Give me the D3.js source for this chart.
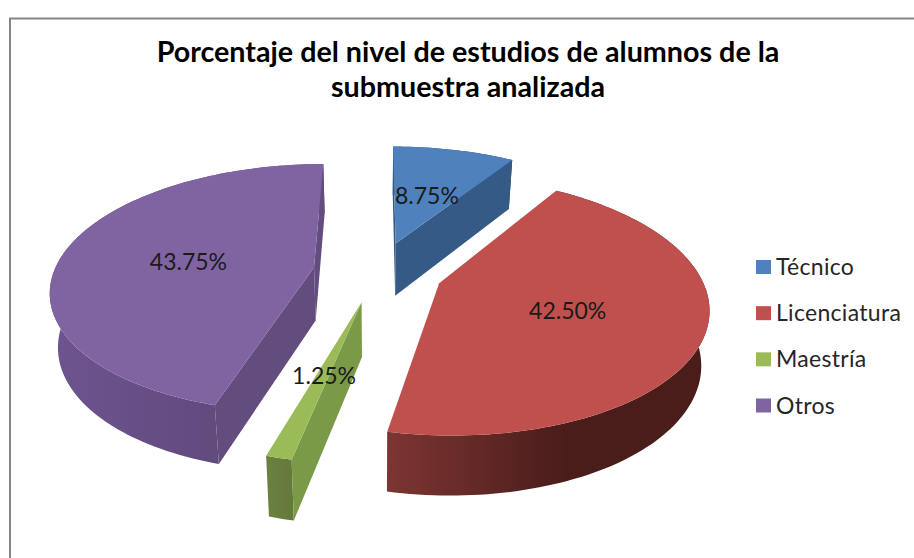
<!DOCTYPE html>
<html>
<head>
<meta charset="utf-8">
<script src="https://cdn.jsdelivr.net/npm/d3@7"></script>
<style>
  body { margin: 0; background: #fff; }
  svg { display: block; font-family: Lato, "Noto Sans", sans-serif; }
</style>
</head>
<body>
<svg id="chart" width="914" height="558"></svg>
<script>
const categories = ["Técnico", "Licenciatura", "Maestría", "Otros"];
const values = [8.75, 42.5, 1.25, 43.75];
const titleLines = [
  "Porcentaje del nivel de estudios de alumnos de la",
  "submuestra analizada",
];

const topColors = ["#4f81bd", "#c0504d", "#9bbb59", "#8064a2"];
const cutColors = ["#355a85", "#7f2f2c", "#7a9a47", "#634d7e"];
// outer wall goes darker from left to right
const wallColors = [
  ["#355a85", "#2c4a6e"],
  ["#7c3532", "#4a1d1b"],
  ["#6b8140", "#65793b"],
  ["#6d5490", "#5a4470"],
];

const svg = d3.select("#chart");

svg
  .append("rect")
  .attr("x", 10)
  .attr("y", 18.5)
  .attr("width", 1000)
  .attr("height", 1000)
  .attr("fill", "#fff")
  .attr("stroke", "#868686")
  .attr("stroke-width", 2);

svg
  .selectAll(".title")
  .data(titleLines)
  .enter()
  .append("text")
  .attr("class", "title")
  .attr("x", 468)
  .attr("y", (d, i) => 62 + i * 35)
  .attr("text-anchor", "middle")
  .attr("font-size", 28.7)
  .attr("font-weight", 700)
  .attr("fill", "#000")
  .text((d) => d);

// perspective view of the pie plane, X and Y in pie radii
const center = { x: 378, y: 271.5 };
const radiusX = 260;
const radiusY = 122;
const tilt = 0.17;
const explode = 0.25;

function project(X, Y) {
  const s = 1 / (1 - tilt * Y);
  return [center.x + X * radiusX * s, center.y + Y * radiusY * s];
}

// same point on the bottom face of the pie
function lower(p) {
  return [
    center.x + (p[0] - center.x) * 0.975,
    p[1] + 49 + (p[1] - 161) * 0.04,
  ];
}

function planePoint(slice, r, angle) {
  const mid = (slice.startAngle + slice.endAngle) / 2;
  return project(
    r * Math.sin(angle) + explode * Math.sin(mid),
    -r * Math.cos(angle) - explode * Math.cos(mid)
  );
}

const pie = d3.pie().sort(null);
const slices = pie(values);
const line = d3.line();

function arcPoints(slice) {
  const steps = Math.max(6, Math.ceil((slice.endAngle - slice.startAngle) * 40));
  return d3
    .range(steps + 1)
    .map((i) =>
      planePoint(
        slice,
        1,
        slice.startAngle + ((slice.endAngle - slice.startAngle) * i) / steps
      )
    );
}

// a cut wall shows only when the top face lies above its edge on screen
function facesViewer(apex, end, inside) {
  const dx = end[0] - apex[0];
  const dy = end[1] - apex[1];
  const toInside = dx * (inside[1] - apex[1]) - dy * (inside[0] - apex[0]);
  return dx * toInside < 0;
}

const defs = svg.append("defs");
slices.forEach((slice, i) => {
  const xs = arcPoints(slice).map((p) => p[0]);
  const grad = defs
    .append("linearGradient")
    .attr("id", `wall-${i}`)
    .attr("gradientUnits", "userSpaceOnUse")
    .attr("x1", d3.min(xs))
    .attr("x2", d3.max(xs))
    .attr("y1", 0)
    .attr("y2", 0);
  grad.append("stop").attr("offset", 0).attr("stop-color", wallColors[i][0]);
  grad
    .append("stop")
    .attr("offset", i === 1 ? 0.55 : 1)
    .attr("stop-color", wallColors[i][1]);
});

const pieGroup = svg.append("g");

slices.forEach((slice, i) => {
  const apex = planePoint(slice, 0, 0);
  const arc = arcPoints(slice);
  const inside = arc[Math.floor(arc.length / 2)];

  pieGroup
    .append("path")
    .attr("d", line(arc.concat(arc.map(lower).reverse())) + "Z")
    .attr("fill", `url(#wall-${i})`);

  [arc[0], arc[arc.length - 1]]
    .filter((end) => facesViewer(apex, end, inside))
    .forEach((end) => {
      pieGroup
        .append("path")
        .attr("d", line([apex, end, lower(end), lower(apex)]) + "Z")
        .attr("fill", cutColors[i]);
    });

  pieGroup
    .append("path")
    .attr("d", line([apex].concat(arc)) + "Z")
    .attr("fill", topColors[i]);
});

const labelPoint = (d) => planePoint(d, 0.5, (d.startAngle + d.endAngle) / 2);

svg
  .selectAll(".value")
  .data(slices)
  .enter()
  .append("text")
  .attr("class", "value")
  .attr("x", (d) => labelPoint(d)[0])
  .attr("y", (d) => labelPoint(d)[1] + 11)
  .attr("text-anchor", "middle")
  .attr("font-size", 23)
  .attr("fill", "#1a1a1a")
  .text((d) => d3.format(".2f")(d.data) + "%");

const legendY = d3.scalePoint().domain(categories).range([267, 405.5]);

const legend = svg
  .selectAll(".legend")
  .data(categories)
  .enter()
  .append("g")
  .attr("class", "legend")
  .attr("transform", (d) => `translate(756,${legendY(d)})`);

legend
  .append("rect")
  .attr("y", -7)
  .attr("width", 15)
  .attr("height", 14)
  .attr("fill", (d, i) => topColors[i]);

legend
  .append("text")
  .attr("x", 20)
  .attr("y", 8)
  .attr("font-size", 23)
  .attr("letter-spacing", 0.3)
  .attr("fill", "#262626")
  .text((d) => d);
</script>
</body>
</html>
